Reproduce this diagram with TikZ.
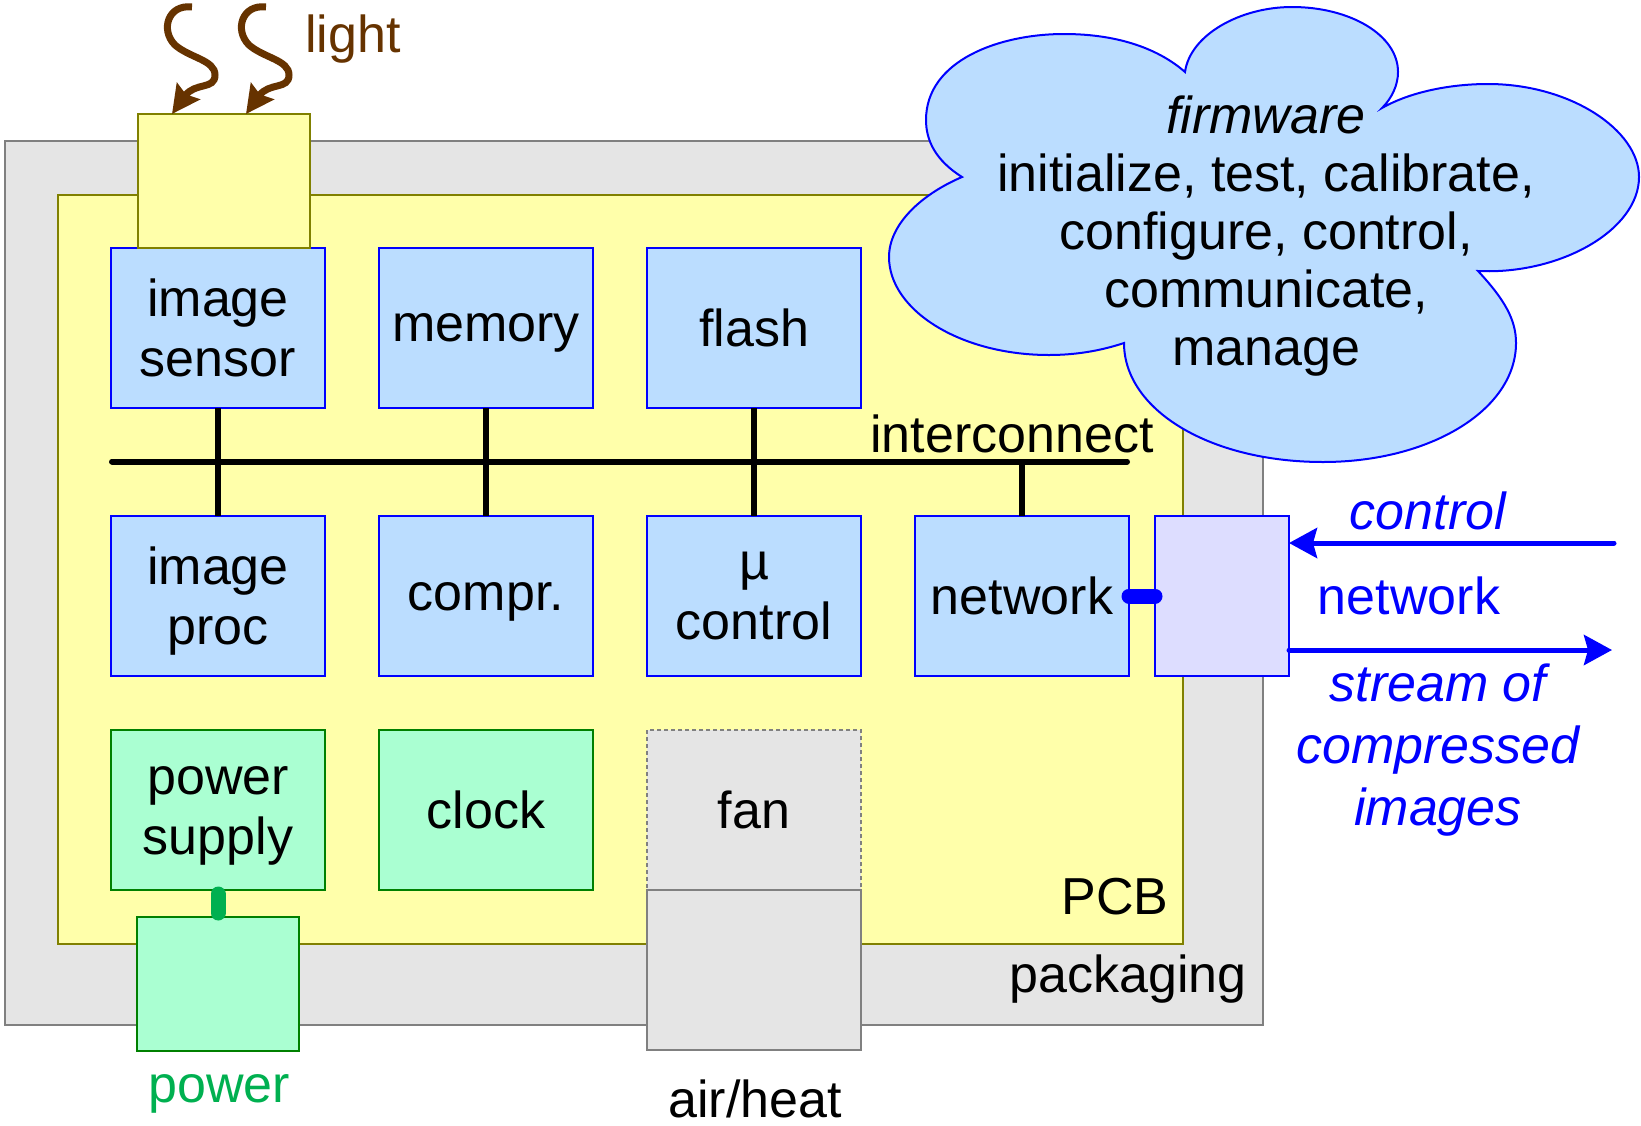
\documentclass[tikz,border=0pt]{standalone}
\usepackage{fontspec}
\setmainfont{Liberation Sans}
\usetikzlibrary{arrows.meta,positioning}
\definecolor{chip}{RGB}{187,221,255}
\definecolor{chipline}{RGB}{0,0,255}
\definecolor{pwr}{RGB}{170,255,210}
\definecolor{pwrline}{RGB}{0,128,0}
\definecolor{pwrlink}{RGB}{0,176,80}
\definecolor{board}{RGB}{255,255,170}
\definecolor{boardline}{RGB}{128,128,0}
\definecolor{case}{RGB}{229,229,229}
\definecolor{caseline}{RGB}{128,128,128}
\definecolor{port}{RGB}{221,221,255}
\definecolor{sun}{RGB}{102,51,0}
\definecolor{wire}{RGB}{0,0,255}
\tikzset{
  every picture/.style={line width=1pt, font=\fontsize{26}{30}\selectfont},
  node distance=27pt and 27pt,
  box/.style={draw=chipline, fill=chip, minimum width=107pt, minimum height=80pt, inner sep=0pt, outer sep=0pt, align=center, text depth=0pt},
  supply/.style={box, draw=pwrline, fill=pwr},
  cooler/.style={box, draw=caseline, fill=case},
  lens/.style={draw=boardline, fill=board, minimum width=86pt, minimum height=67pt, inner sep=0pt, outer sep=0pt},
  port/.style={draw=wire, fill=port, minimum width=67pt, minimum height=80pt, inner sep=0pt, outer sep=0pt},
  bus/.style={line width=3pt, line cap=round},
  plug/.style={line width=7.5pt, line cap=round},
  ray/.style={draw=sun, line width=3.5pt, -{Stealth[length=14pt,width=14pt,inset=2pt]}},
  flow/.style={draw=wire, line width=2.5pt, line cap=round, -{Stealth[length=14pt,width=15pt,inset=2pt]}},
  lbl/.style={inner sep=0pt, align=center},
}

\begin{document}
\begin{tikzpicture}[x=0.5pt, y=-0.5pt]
  \useasboundingbox (0,0) rectangle (1641,1125);
  % housing and board
  \draw[draw=caseline, fill=case] (5,141) rectangle (1263,1025);
  \draw[draw=boardline, fill=board] (58,195) rectangle (1183,944);
  \node[lbl] (pkglbl) at (1128,979) {packaging};
  \node[lbl] (pcblbl) at (1115,897) {PCB};

  % blocks on the board
  \node[box] (sensor) at (218,328) {image\\sensor};
  \node[box, right=of sensor] (mem) {memory};
  \node[box, right=of mem] (flash) {flash};
  \node[box, below=54pt of sensor] (iproc) {image\\proc};
  \node[box, right=of iproc] (compr) {compr.};
  \node[box, right=of compr] (mctl) {µ\\control};
  \node[box, right=of mctl] (net) {network};
  \node[supply, below=of iproc] (psu) {power\\supply};
  \node[supply, right=of psu] (clk) {clock};
  \node[cooler, right=of clk, dash pattern=on 2pt off 1.5pt] (fan) {fan};

  % parts that stick out of the housing
  \node[lens, above=0pt of sensor, xshift=3pt] (lens) {};
  \node[supply, minimum width=81pt, minimum height=67pt, below=13.5pt of psu] (pwrin) {};
  \node[cooler, below=0pt of fan] (vent) {};
  \node[port, right=13pt of net] (conn) {};

  % interconnect
  \coordinate (busL) at (112,461.5);
  \coordinate (busR) at (1127,461.5);
  \draw[bus] (busL) -- (busR);
  \draw[bus, line cap=butt] (sensor) -- (iproc);
  \draw[bus, line cap=butt] (mem) -- (compr);
  \draw[bus, line cap=butt] (flash) -- (mctl);
  \draw[bus, line cap=butt] (net.north) -- (net.north |- busR);
  \node[lbl] (buslbl) at (1012,434) {interconnect};

  \draw[plug, pwrlink, shorten <=2pt, shorten >=2pt] (psu) -- (pwrin);
  \draw[plug, wire] (net) -- (conn);

  % light coming in
  \coordinate (tip1) at ([xshift=17pt]lens.north west);
  \coordinate (tip2) at ([xshift=54pt]lens.north west);
  \foreach \dx/\t in {0/tip1, 37/tip2}
    \draw[ray, xshift=\dx pt] (192,7) .. controls (168,4) and (160,30) .. (175,45)
      .. controls (190,58) and (215,60) .. (215,75) .. controls (215,90) and (195,82) .. (\t);
  \node[lbl, text=sun] (lightlbl) at (353,39) {light};

  % outside world
  \coordinate (ctlsrc) at (1614,543);
  \coordinate (strdst) at (1612,650);
  \draw[flow] (ctlsrc) -- (ctlsrc -| conn.east);
  \draw[flow] (conn.east |- strdst) -- (strdst);
  \node[lbl, text=wire] (ctllbl) at (1428,511) {\itshape control};
  \node[lbl, text=wire] (netlbl) at (1409,596) {network};
  \node[lbl, text=wire, font=\fontsize{26}{31}\selectfont\itshape] (strlbl) at (1438,750) {stream of\\compressed\\images};
  \node[lbl, text=pwrlink] (pwrlbl) at (219,1094) {power};
  \node[lbl] (airlbl) at (755,1099) {air/heat};

  % firmware cloud
  \draw[draw=chipline, fill=chip] (962,177)
    .. controls (935,160) and (926,140) .. (926,120)
    .. controls (926,60) and (1000,34) .. (1064,34)
    .. controls (1120,34) and (1160,50) .. (1185,72)
    .. controls (1190,35) and (1240,7) .. (1292,7)
    .. controls (1350,7) and (1398,35) .. (1398,72)
    .. controls (1398,85) and (1392,98) .. (1382,108)
    .. controls (1410,92) and (1450,84) .. (1488,84)
    .. controls (1570,84) and (1639,130) .. (1639,177)
    .. controls (1639,230) and (1560,275) .. (1478,271)
    .. controls (1505,300) and (1516,320) .. (1516,343)
    .. controls (1516,410) and (1430,462) .. (1323,462)
    .. controls (1210,462) and (1124,410) .. (1124,343)
    .. controls (1100,351) and (1075,355) .. (1049,355)
    .. controls (960,355) and (889,310) .. (889,257)
    .. controls (889,225) and (920,195) .. (962,177) -- cycle;
  \node[lbl, font=\fontsize{26}{29}\selectfont] (fw) at (1266,236) {\textit{firmware}\\initialize, test, calibrate,\\configure, control,\\communicate,\\manage};
\end{tikzpicture}
\end{document}
